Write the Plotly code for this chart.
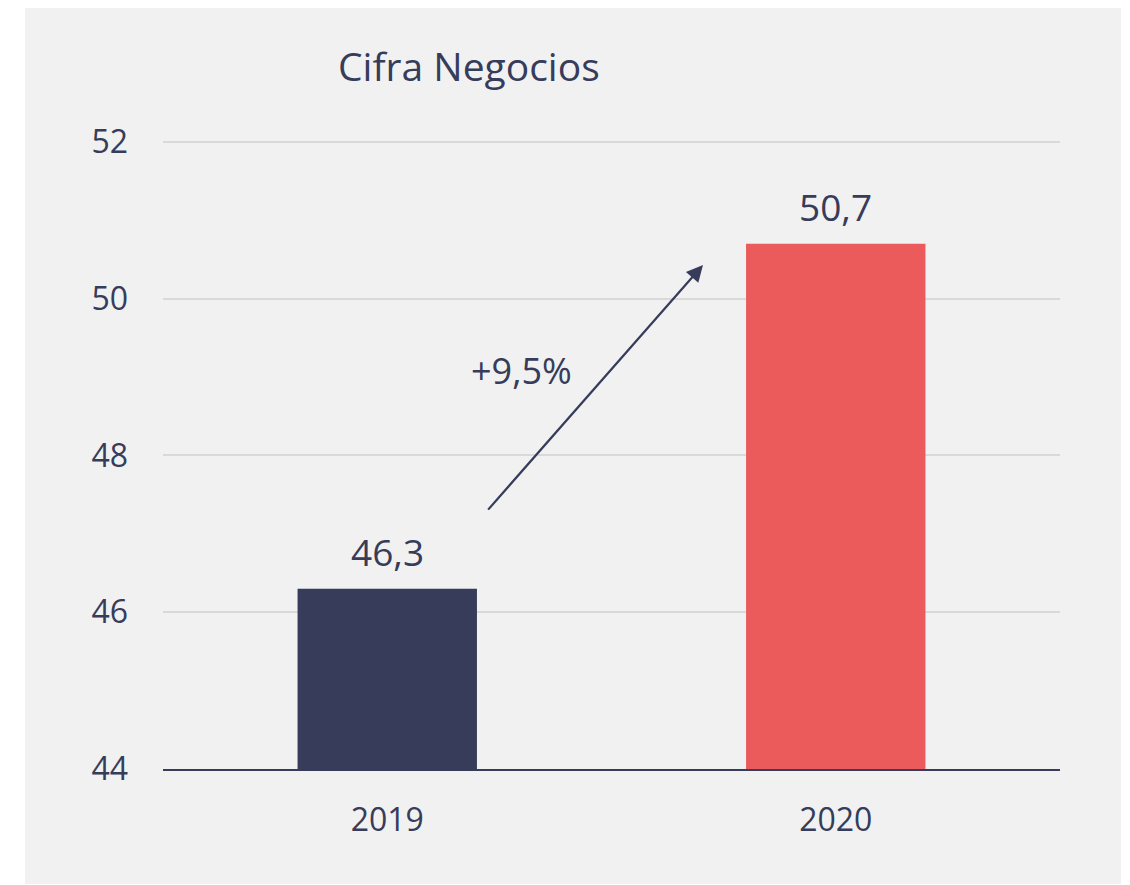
import plotly.graph_objects as go

years = ["2019", "2020"]
values = [46.3, 50.7]
bar_colors = ["#363c59", "#eb5b5b"]
growth_label = "+9,5%"
title_text = "Cifra Negocios"
y_ticks = [44, 46, 48, 50, 52]

TEXT = "#363c5a"
FONT = "Open Sans"

labels = [f"{v:.1f}".replace(".", ",") for v in values]

W, H = 1122, 877
L, R, T, B = 155, 70, 130, 116
pw, ph = W - L - R, H - T - B

def px_x(p):
    return (p - L) / pw

def px_y(p):
    return (H - B - p) / ph

fig = go.Figure()
fig.add_trace(go.Bar(
    x=years, y=values, marker=dict(color=bar_colors, line=dict(width=0)),
    width=0.4, showlegend=False, hoverinfo="x+y",
))

for i, (v, lab) in enumerate(zip(values, labels)):
    fig.add_annotation(x=i, y=v, xref="x", yref="y", text=lab, showarrow=False,
                       yanchor="middle", yshift=37,
                       font=dict(size=37, color=TEXT, family=FONT))

fig.add_shape(type="rect", xref="paper", yref="paper",
              x0=px_x(17), x1=px_x(1113), y0=px_y(876), y1=px_y(-5),
              fillcolor="#f1f1f1", line=dict(width=0), layer="below")

fig.add_annotation(x=0.704, y=50.43, ax=0.222, ay=47.29, xref="x", yref="y",
                   axref="x", ayref="y", text="", showarrow=True,
                   arrowhead=2, arrowsize=1.5, arrowwidth=2.2, arrowcolor=TEXT)
fig.add_annotation(x=0.300, y=49.08, xref="x", yref="y", text=growth_label,
                   showarrow=False, yanchor="middle",
                   font=dict(size=36, color=TEXT, family=FONT))
fig.add_annotation(x=px_x(461), y=px_y(58), xref="paper", yref="paper",
                   text=title_text, showarrow=False, yanchor="middle",
                   xanchor="center",
                   font=dict(size=39, color=TEXT, family=FONT))

fig.update_layout(
    width=W, height=H, margin=dict(l=L, r=R, t=T, b=B),
    paper_bgcolor="white", plot_bgcolor="rgba(0,0,0,0)",
    bargap=0.6,
    xaxis=dict(type="category", showgrid=False, showline=True, linecolor=TEXT,
               linewidth=2, ticks="",
               tickfont=dict(size=32, color=TEXT, family=FONT),
               ticklabelstandoff=22),
    yaxis=dict(range=[44, 52.05], tickvals=y_ticks, showgrid=True,
               gridcolor="#d9d9d9", gridwidth=2, zeroline=False,
               tickfont=dict(size=32, color=TEXT, family=FONT),
               ticklabelstandoff=34),
)

fig.write_html("out.html")
